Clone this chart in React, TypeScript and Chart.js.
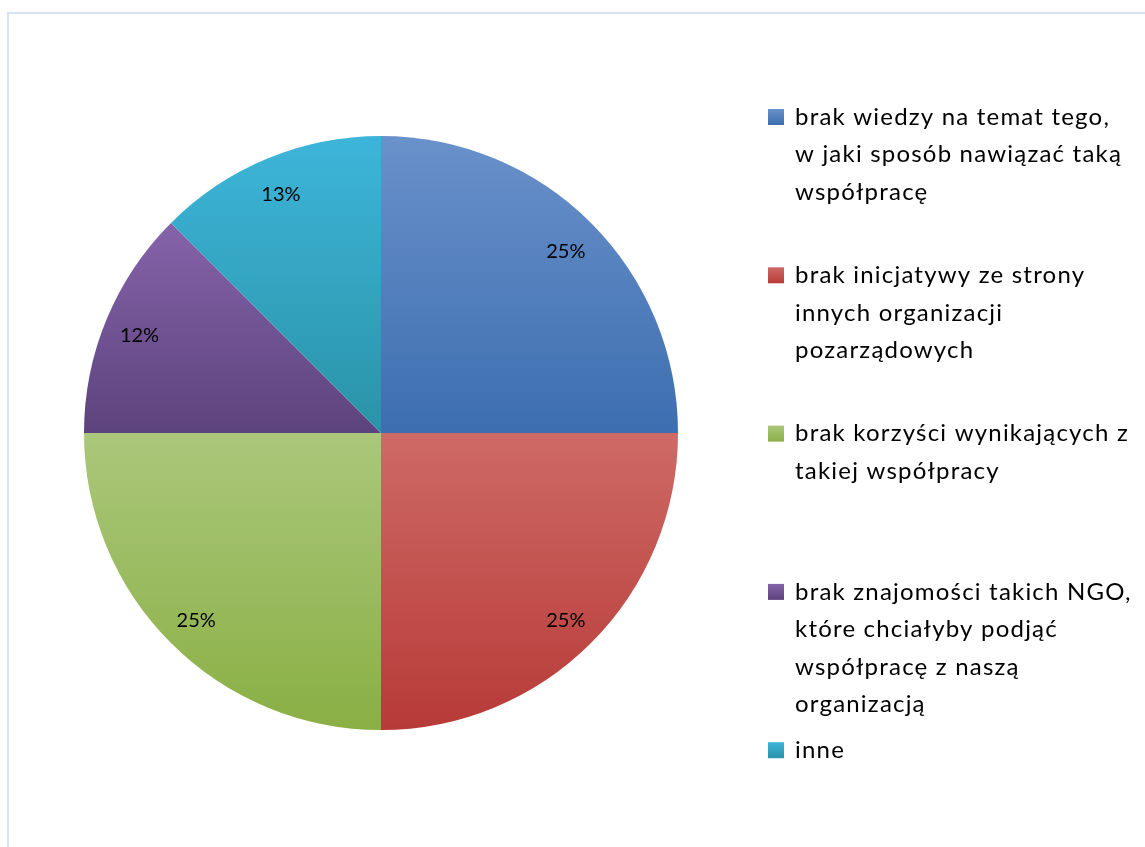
import React, { useEffect, useRef } from "react";
import { Chart, registerables } from "chart.js";

Chart.register(...registerables);

const categories: string[][] = [
  ["brak wiedzy na temat tego,", "w jaki sposób nawiązać taką", "współpracę"],
  ["brak inicjatywy ze strony", "innych organizacji", "pozarządowych"],
  ["brak korzyści wynikających z", "takiej współpracy"],
  ["brak znajomości takich NGO,", "które chciałyby podjąć", "współpracę z naszą", "organizacją"],
  ["inne"],
];
const values: number[] = [25, 25, 25, 12.5, 12.5];
const percentLabels: string[] = ["25%", "25%", "25%", "12%", "13%"];

const topColors = ["#6991ca", "#ce6a66", "#abc77b", "#8563a9", "#3db5da"];
const bottomColors = ["#3d6eb0", "#b73a37", "#8aaf44", "#5d437e", "#2a93a7"];

const FONT = "Lato, 'Open Sans', 'DejaVu Sans', sans-serif";

function sliceYRange(cy: number, r: number, a0: number, a1: number): [number, number] {
  const ys = [cy, cy + r * Math.sin(a0), cy + r * Math.sin(a1)];
  for (let k = -4; k <= 4; k++) {
    const a = Math.PI / 2 + k * Math.PI;
    if (a > a0 && a < a1) ys.push(cy + r * Math.sin(a));
  }
  return [Math.min(...ys), Math.max(...ys)];
}

function sliceGradient(ctx: any) {
  const chart = ctx.chart;
  const i = ctx.dataIndex;
  const area = chart.chartArea;
  if (!area || i === undefined) return topColors[i ?? 0];
  const cx = (area.left + area.right) / 2;
  const cy = (area.top + area.bottom) / 2;
  const r = Math.min(area.right - area.left, area.bottom - area.top) / 2;
  const total = values.reduce((a, b) => a + b, 0);
  let start = -Math.PI / 2;
  for (let k = 0; k < i; k++) start += (values[k] / total) * Math.PI * 2;
  const end = start + (values[i] / total) * Math.PI * 2;
  const [y0, y1] = sliceYRange(cy, r, start, end);
  const g = chart.ctx.createLinearGradient(0, y0, 0, y1);
  g.addColorStop(0, topColors[i]);
  g.addColorStop(1, bottomColors[i]);
  return g;
}

const labelPlugin = {
  id: "sliceLabels",
  afterDatasetsDraw(chart: any) {
    const meta = chart.getDatasetMeta(0);
    const c = chart.ctx;
    c.save();
    c.font = `20px ${FONT}`;
    c.fillStyle = "#000000";
    c.textAlign = "center";
    c.textBaseline = "middle";
    meta.data.forEach((arc: any, i: number) => {
      const mid = (arc.startAngle + arc.endAngle) / 2;
      const d = arc.outerRadius * 0.88;
      c.fillText(percentLabels[i], arc.x + Math.cos(mid) * d, arc.y + Math.sin(mid) * d + 3);
    });
    c.restore();
  },
};

const legendPlugin = {
  id: "wrapLegend",
  afterDraw(chart: any) {
    const c = chart.ctx;
    const o = chart.options.plugins.wrapLegend;
    c.save();
    c.font = `${o.fontSize}px ${FONT}`;
    try {
      (c as any).letterSpacing = `${o.letterSpacing}px`;
    } catch (e) {}
    c.textBaseline = "middle";
    c.textAlign = "left";
    categories.forEach((lines, i) => {
      const y = o.top + i * o.itemPitch;
      const s = o.box;
      const g = c.createLinearGradient(0, y - s / 2, 0, y + s / 2);
      g.addColorStop(0, topColors[i]);
      g.addColorStop(1, bottomColors[i]);
      c.fillStyle = g;
      c.fillRect(o.boxX, y - s / 2, s, s);
      c.fillStyle = "#000000";
      lines.forEach((t, j) => {
        c.fillText(t, o.textX, y + j * o.lineHeight);
      });
    });
    c.restore();
  },
};

export default function App() {
  const ref = useRef<HTMLCanvasElement>(null);
  useEffect(() => {
    document.documentElement.style.overflow = "hidden";
    if (!ref.current) return;
    const chart = new Chart(ref.current, {
      type: "pie",
      data: {
        labels: categories.map((l) => l.join(" ")),
        datasets: [
          {
            data: values,
            backgroundColor: sliceGradient as any,
            borderWidth: 0,
          },
        ],
      },
      options: {
        responsive: false,
        animation: false,
        layout: { padding: { left: 75, top: 122, right: 467, bottom: 117 } },
        plugins: {
          legend: { display: false },
          tooltip: { enabled: false },
          wrapLegend: {
            top: 103,
            itemPitch: 158.3,
            lineHeight: 37.5,
            fontSize: 24,
            letterSpacing: 1.2,
            box: 16,
            boxX: 759,
            textX: 786,
          },
        } as any,
      },
      plugins: [labelPlugin, legendPlugin],
    });
    return () => chart.destroy();
  }, []);
  return (
    <div
      style={{
        position: "fixed",
        left: 7,
        top: 12,
        width: 1200,
        height: 900,
        borderLeft: "2px solid #d5e3f3",
        borderTop: "2px solid #d5e3f3",
        background: "#ffffff",
      }}
    >
      <canvas ref={ref} width={1136} height={833} style={{ display: "block" }} />
    </div>
  );
}
